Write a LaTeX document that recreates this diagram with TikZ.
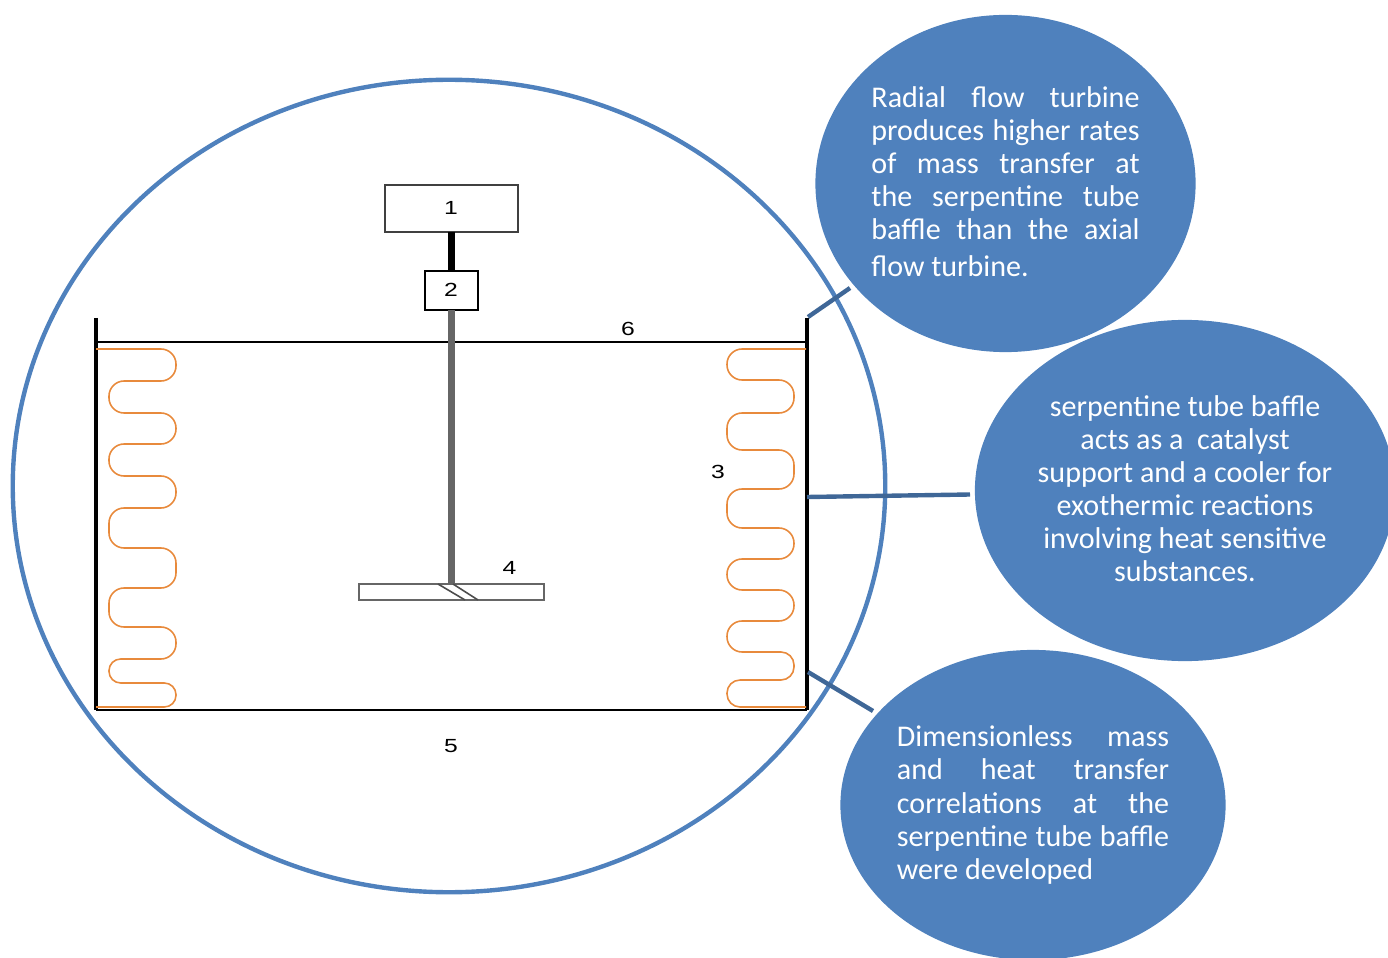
\documentclass[tikz,border=0pt]{standalone}
\usepackage{fontspec}
\setmainfont{Carlito}
\newfontfamily\labelfont{Liberation Sans}
\usetikzlibrary{shapes.geometric}
\definecolor{calloutblue}{HTML}{4F81BD}
\definecolor{linkblue}{HTML}{3F6797}
\definecolor{coilorange}{HTML}{E88A3C}
\tikzset{
    callout/.style={ellipse,fill=calloutblue,inner sep=0pt,outer sep=0pt,
        text=white,font=\fontsize{8.55}{9.4}\selectfont},
    partlabel/.style={font=\labelfont\fontsize{5.4}{6}\selectfont,xscale=1.3,inner sep=0pt},
    partbox/.style={draw=black!75,line width=0.45pt,fill=white,inner sep=0pt,outer sep=0pt},
    coil/.style={draw=coilorange,line width=0.45pt},
    link/.style={draw=linkblue,line width=1.25pt},
    wall/.style={line width=0.95pt}
}
\begin{document}
\begin{tikzpicture}[x=0.01cm,y=-0.01cm]
        \useasboundingbox (0,0) rectangle (1388,958);
        \clip (0,0) rectangle (1388,958);

        % Detail circle
        \node (detail) [ellipse,draw=calloutblue,line width=1.25pt,inner sep=0pt,outer sep=0pt,
            minimum width=8.72cm,minimum height=8.12cm] at (449,486) {};

        % Tank
        \coordinate (tank_tl) at (96,318);
        \coordinate (tank_tr) at (807,318);
        \coordinate (tank_bl) at (96,710);
        \coordinate (tank_br) at (807,710);
        \draw [wall] (tank_tl) -- (tank_bl);
        \draw [wall] (tank_tr) -- (tank_br);
        \draw [line width=0.7pt] (tank_bl) -- (tank_br);
        \coordinate (level_l) at (96,342);
        \coordinate (level_r) at (807,342);
        \draw [line width=0.55pt] (level_l) -- (level_r);

        % Serpentine tube baffle
        \draw [coil] (96,349) [rounded corners=4.3pt] -| (176,381) -| (109,413) -| (176,444) -| (109,476)
            -| (176,508) -| (109,548) -| (176,588) -| (109,627) -| (176,659)
            [rounded corners=3.3pt] -| (109,683) -| (176,707) [sharp corners] -- (96,707);
        \draw [coil] (806,349) [rounded corners=4.3pt] -| (727,380) -| (794,413) -| (727,450) -| (794,489)
            -| (727,528) -| (794,559) -| (727,590) -| (794,621) -| (727,652)
            [rounded corners=3.7pt] -| (794,680) -| (727,707) [sharp corners] -- (806,707);

        % Motor, gearbox and shaft
        \node (motor) [partbox,minimum width=1.33cm,minimum height=0.47cm] at (451.5,208.5) {};
        \node (gear) [partbox,draw=black,minimum width=0.53cm,minimum height=0.39cm] at (451.5,290.5) {};
        \draw [line width=2pt] (motor.south) -- (gear.north);
        \node (blade) [partbox,draw=black!60,minimum width=1.85cm,minimum height=0.16cm] at (451.5,592) {};
        \draw [draw=black!60,line width=1.9pt] (gear.south) -- (blade.north);
        \draw [black!70,line width=0.45pt] (438,584) -- (465,600);
        \draw [black!70,line width=0.45pt] (453,584) -- (478,600);

        % Part numbers
        \node (num_1) [partlabel] at (451,207.5) {1};
        \node (num_2) [partlabel] at (451,289.5) {2};
        \node (num_3) [partlabel] at (718,471.5) {3};
        \node (num_4) [partlabel] at (509.5,567.5) {4};
        \node (num_5) [partlabel] at (451,746.5) {5};
        \node (num_6) [partlabel] at (628,328.5) {6};

        % Callouts
        \node (turbine) [callout,minimum width=3.8cm,minimum height=3.37cm,text width=2.68cm,align=justify] at (1005.5,183.5)
            {Radial flow turbine\linebreak produces higher rates\linebreak of mass transfer at\linebreak the serpentine tube\linebreak
             baffle than the axial\vadjust{\vskip1.1pt}\linebreak flow turbine.\par\vspace{1.1pt}};
        \node (baffle) [callout,minimum width=4.2cm,minimum height=3.41cm,text width=2.96cm,align=flush center] at (1185,490.5)
            {serpentine tube baffle\\ acts as a\ \ catalyst\\ support and a cooler for\\ exothermic reactions\\
             involving heat sensitive\\ substances.\par\vspace{1.1pt}};
        \node (correl) [callout,minimum width=3.85cm,minimum height=3.1cm,text width=2.72cm,align=justify] at (1033,805)
            {Dimensionless mass\linebreak and heat transfer\linebreak correlations at the\linebreak serpentine tube baffle\linebreak were developed};

        % Links from tank to callouts
        \coordinate (link_a) at (808,317);
        \coordinate (end_a) at (850,288);
        \coordinate (link_b) at (807,497);
        \coordinate (end_b) at (970,494.5);
        \coordinate (link_c) at (808,672);
        \coordinate (end_c) at (873,711);
        \draw [link] (link_a) -- (end_a);
        \draw [link] (link_b) -- (end_b);
        \draw [link] (link_c) -- (end_c);
    \end{tikzpicture}
\end{document}
